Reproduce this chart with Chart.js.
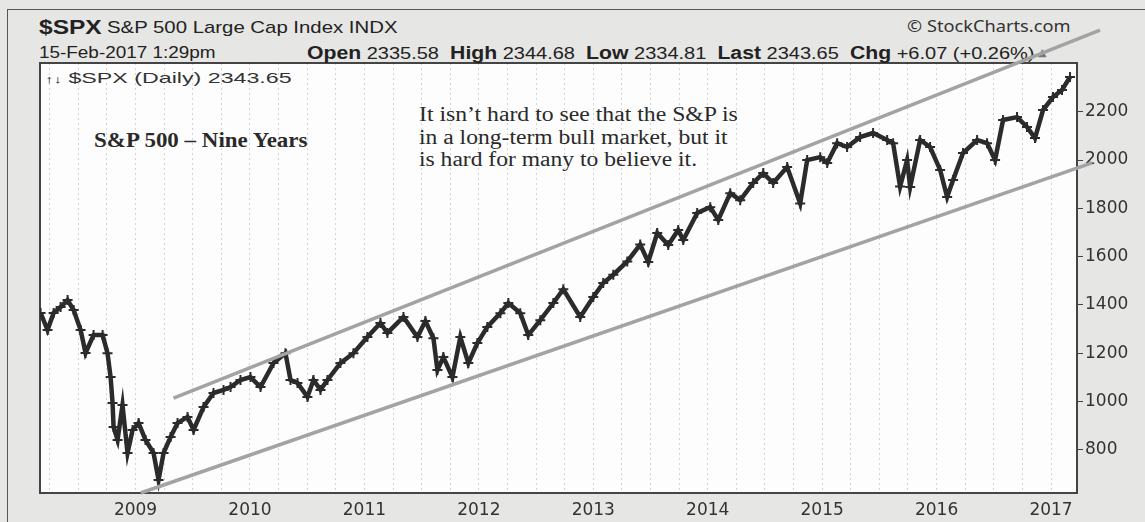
<!DOCTYPE html>
<html>
<head>
<meta charset="utf-8">
<title>$SPX S&amp;P 500 Large Cap Index</title>
<script src="https://cdn.jsdelivr.net/npm/chart.js@4.4.1/dist/chart.umd.min.js"></script>
<style>
    html, body { margin: 0; padding: 0; }
    body {
        width: 1145px; height: 522px; position: relative; overflow: hidden;
        background: #e6e6e4; color: #222;
        font-family: "Liberation Sans", Arial, sans-serif;
    }
    .frame-top { position: absolute; left: 7px; top: 9px; width: 1138px; border-top: 1.5px solid #555; }
    .frame-left { position: absolute; left: 7px; top: 9px; height: 513px; border-left: 1.5px solid #555; }
    #plot-bg {
        position: absolute; left: 39px; top: 62px; width: 1039px; height: 432px;
        box-sizing: border-box; border: 2px solid #444; background: #fdfdfd;
    }
    .t { position: absolute; white-space: nowrap; line-height: 1; transform-origin: 0 50%; }
    .serif { font-family: "Liberation Serif", "Times New Roman", serif; color: #2a2a2a; }
    b { font-weight: bold; }
    #chart { position: absolute; left: 0; top: 0; }
</style>
</head>
<body>
<div class="frame-top"></div>
<div class="frame-left"></div>
<div id="plot-bg"></div>

<div class="t" style="left:39px; font-size:21px; font-weight:bold;" data-cy="26" data-w="63">$SPX</div>
<div class="t" style="left:107px; font-size:17px;" data-cy="27" data-w="291">S&amp;P 500 Large Cap Index INDX</div>
<div class="t" style="left:907px; font-size:16px; font-family:'Noto Sans', sans-serif; color:#333;" data-cy="26" data-w="164">© StockCharts.com</div>
<div class="t" style="left:39px; font-size:16px;" data-cy="53" data-w="176">15-Feb-2017 1:29pm</div>
<div class="t" style="left:307px; font-size:17px;" data-cy="53" data-w="727"><b style="font-size:18px">Open</b> 2335.58&nbsp; <b style="font-size:18px">High</b> 2344.68&nbsp; <b style="font-size:18px">Low</b> 2334.81&nbsp; <b style="font-size:18px">Last</b> 2343.65&nbsp; <b style="font-size:18px">Chg</b> +6.07 (+0.26%)</div>
<div class="t" style="left:1038px; font-size:11px; color:#777; font-family:'DejaVu Sans', sans-serif;" data-cy="52">▲</div>

<div class="t" style="left:45px; font-size:15px; color:#333;" data-cy="77" data-w="246"><span style="font-size:11px">↑↓</span> $SPX (Daily) 2343.65</div>
<div class="t serif" style="left:94px; font-size:22px; font-weight:bold;" data-cy="140" data-w="214">S&amp;P 500 – Nine Years</div>
<div class="t serif" style="left:419px; font-size:20px;" data-cy="114" data-w="319">It isn’t hard to see that the S&amp;P is</div>
<div class="t serif" style="left:419px; font-size:20px;" data-cy="137" data-w="309">in a long-term bull market, but it</div>
<div class="t serif" style="left:419px; font-size:20px;" data-cy="159" data-w="278">is hard for many to believe it.</div>

<canvas id="chart" width="1145" height="522"></canvas>

<script>
// daily close (x in fractional years)
const dates = [
    2008.170, 2008.231, 2008.284, 2008.345, 2008.406, 2008.459, 2008.520, 2008.563, 2008.633, 2008.712,
    2008.755, 2008.782, 2008.799, 2008.808, 2008.843, 2008.886, 2008.930, 2008.974, 2009.026, 2009.087,
    2009.157, 2009.201, 2009.245, 2009.306, 2009.367, 2009.454, 2009.507, 2009.594, 2009.681, 2009.769,
    2009.830, 2009.917, 2010.004, 2010.092, 2010.205, 2010.310, 2010.354, 2010.415, 2010.502, 2010.555,
    2010.616, 2010.677, 2010.790, 2010.904, 2011.026, 2011.140, 2011.201, 2011.341, 2011.463, 2011.533,
    2011.603, 2011.638, 2011.690, 2011.769, 2011.838, 2011.908, 2011.987, 2012.074, 2012.188, 2012.258,
    2012.362, 2012.432, 2012.537, 2012.651, 2012.738, 2012.886, 2013.000, 2013.087, 2013.175, 2013.297,
    2013.410, 2013.480, 2013.559, 2013.655, 2013.742, 2013.786, 2013.908, 2014.022, 2014.092, 2014.197,
    2014.284, 2014.397, 2014.485, 2014.572, 2014.694, 2014.808, 2014.869, 2014.983, 2015.044, 2015.131,
    2015.218, 2015.332, 2015.445, 2015.568, 2015.620, 2015.681, 2015.742, 2015.769, 2015.856, 2015.943,
    2016.031, 2016.092, 2016.144, 2016.231, 2016.354, 2016.441, 2016.511, 2016.581, 2016.703, 2016.790,
    2016.860, 2016.930, 2017.017, 2017.096, 2017.166
];
const closes = [
    1367, 1296, 1367, 1391, 1420, 1379, 1296, 1201, 1275, 1275,
    1200, 1101, 994, 894, 841, 985, 787, 882, 911, 841,
    787, 675, 787, 853, 911, 936, 882, 977, 1035, 1048,
    1060, 1089, 1101, 1060, 1159, 1200, 1089, 1077, 1019, 1089,
    1048, 1089, 1159, 1200, 1267, 1325, 1284, 1350, 1267, 1333,
    1262, 1130, 1184, 1101, 1267, 1159, 1242, 1309, 1366, 1408,
    1366, 1275, 1337, 1408, 1465, 1350, 1433, 1491, 1525, 1580,
    1650, 1578, 1698, 1648, 1710, 1669, 1781, 1805, 1752, 1863,
    1834, 1905, 1946, 1905, 1971, 1820, 2000, 2012, 1988, 2070,
    2054, 2095, 2112, 2083, 2070, 1890, 2000, 1888, 2083, 2054,
    1959, 1847, 1917, 2029, 2083, 2070, 2000, 2166, 2178, 2137,
    2091, 2207, 2261, 2290, 2344
];

// hand drawn trend channel (endpoints in chart units)
const upperX = [2009.332, 2017.428];
const upperY = [1014, 2538];
const lowerX = [2009.044, 2017.358];
const lowerY = [621, 1988];

const yearTicks = [2009, 2010, 2011, 2012, 2013, 2014, 2015, 2016, 2017];
const priceTicks = [800, 1000, 1200, 1400, 1600, 1800, 2000, 2200];

const X_MIN = 2008.165, X_MAX = 2017.227;
const Y_MIN = 621, Y_MAX = 2402;

function fitTexts() {
    document.querySelectorAll('.t').forEach(el => {
        el.style.transform = '';
        const cy = parseFloat(el.dataset.cy);
        el.style.top = (cy - el.offsetHeight / 2) + 'px';
        if (el.dataset.w) {
            const s = parseFloat(el.dataset.w) / el.offsetWidth;
            el.style.transform = `scaleX(${s})`;
        }
    });
}

function toPoints(xs, ys) {
    return xs.map((x, i) => ({ x: x, y: ys[i] }));
}

function quarterTicks() {
    const out = [];
    for (let y = 2008; y <= 2017; y++) {
        [0, 0.25, 0.5, 0.75].forEach(q => {
            const v = y + q;
            if (v > X_MIN && v < X_MAX) out.push({ value: v });
        });
    }
    return out;
}

fitTexts();
document.fonts.ready.then(fitTexts);

const ctx = document.getElementById('chart').getContext('2d');
new Chart(ctx, {
    type: 'line',
    data: {
        datasets: [
            {
                label: 'upper',
                data: toPoints(upperX, upperY),
                borderColor: '#a3a3a3',
                borderWidth: 3.5,
                pointRadius: 0,
                clip: false,
                order: 0
            },
            {
                label: 'lower',
                data: toPoints(lowerX, lowerY),
                borderColor: '#a3a3a3',
                borderWidth: 3.5,
                pointRadius: 0,
                clip: false,
                order: 0
            },
            {
                label: '$SPX',
                data: toPoints(dates, closes),
                borderColor: '#2b2b2b',
                borderWidth: 4.5,
                pointStyle: 'cross',
                pointRadius: 5,
                pointBorderWidth: 2,
                pointBorderColor: '#2b2b2b',
                tension: 0,
                order: 1
            }
        ]
    },
    options: {
        responsive: false,
        animation: false,
        devicePixelRatio: 1,
        layout: { padding: { left: 40, top: 63, right: 0, bottom: 0 } },
        plugins: {
            legend: { display: false },
            tooltip: { enabled: false }
        },
        scales: {
            x: {
                type: 'linear',
                min: X_MIN,
                max: X_MAX,
                afterBuildTicks: scale => { scale.ticks = quarterTicks(); },
                afterFit: scale => { scale.height = 29; },
                border: { display: false, dash: [2, 3] },
                grid: {
                    display: true,
                    drawOnChartArea: true,
                    drawTicks: false,
                    lineWidth: 1,
                    color: 'rgba(0,0,0,0.16)'
                },
                ticks: {
                    autoSkip: false,
                    maxRotation: 0,
                    padding: 7,
                    color: '#333',
                    font: { family: 'DejaVu Sans', size: 17 },
                    callback: v => yearTicks.includes(v) ? String(v) : ''
                }
            },
            y: {
                position: 'right',
                min: Y_MIN,
                max: Y_MAX,
                afterBuildTicks: scale => { scale.ticks = priceTicks.map(v => ({ value: v })); },
                afterFit: scale => { scale.width = 68; },
                border: { display: false },
                grid: {
                    drawOnChartArea: false,
                    tickLength: 6,
                    color: '#444',
                    tickColor: '#444'
                },
                ticks: {
                    padding: 2,
                    color: '#333',
                    font: { family: 'DejaVu Sans', size: 17 },
                    callback: v => String(v)
                }
            }
        }
    }
});
</script>
</body>
</html>
